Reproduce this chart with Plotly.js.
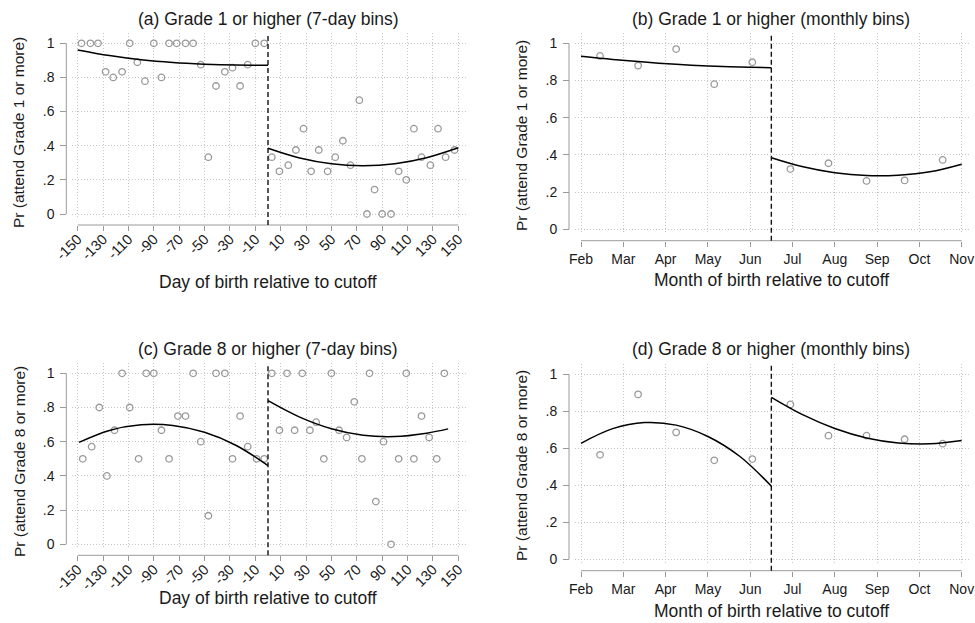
<!DOCTYPE html>
<html><head><meta charset="utf-8">
<script src="https://cdn.plot.ly/plotly-3.0.1.min.js"></script>
<style>html,body{margin:0;padding:0;background:#fff;} #chart{width:975px;height:623px;}</style>
</head><body><div id="chart"></div>
<script>
// ---------- DATA ----------
// Panel (a): Grade 1 or higher, 7-day bins (x = day of birth relative to cutoff)
const aLeftX  = [-147,-140,-134,-128,-122,-115,-109,-103,-97,-90,-84,-78,-72,-65,-59,-53,-47,-41,-34,-28,-22,-16,-10,-3];
const aLeftY  = [1,1,1,0.833,0.8,0.833,1,0.889,0.778,1,0.8,1,1,1,1,0.875,0.333,0.75,0.833,0.857,0.75,0.875,1,1];
const aRightX = [3,9,16,22,28,34,40,47,53,59,65,72,78,84,90,97,103,109,115,121,128,134,140,147];
const aRightY = [0.333,0.25,0.286,0.375,0.5,0.25,0.375,0.25,0.333,0.429,0.286,0.667,0,0.143,0,0,0.25,0.2,0.5,0.333,0.286,0.5,0.333,0.375];
const aFitLeftX  = [-150,-125,-100,-75,-50,-25,0];
const aFitLeftY  = [0.961,0.928,0.903,0.887,0.878,0.873,0.872];
const aFitRightX = [0,25,50,75,100,125,150];
const aFitRightY = [0.385,0.328,0.294,0.283,0.295,0.330,0.388];

// Panel (b): Grade 1 or higher, monthly bins
const bX = [-135,-105,-75,-45,-15,15,45,75,105,135];
const bY = [0.932,0.880,0.969,0.780,0.898,0.324,0.355,0.260,0.263,0.373];
const bFitLeftX  = [-150,-125,-100,-75,-50,-25,0];
const bFitLeftY  = [0.930,0.913,0.899,0.887,0.878,0.872,0.869];
const bFitRightX = [0,25,50,75,100,125,150];
const bFitRightY = [0.385,0.336,0.304,0.289,0.291,0.309,0.350];

// Panel (c): Grade 8 or higher, 7-day bins
const cLeftX  = [-146,-139,-133,-127,-121,-115,-109,-102,-96,-90,-84,-78,-71,-65,-59,-53,-47,-41,-34,-28,-22,-16,-9,-3];
const cLeftY  = [0.5,0.571,0.8,0.4,0.667,1,0.8,0.5,1,1,0.667,0.5,0.75,0.75,1,0.6,0.167,1,1,0.5,0.75,0.571,0.5,0.5];
const cRightX = [3,9,15,21,27,33,38,44,50,56,62,68,74,80,85,91,97,103,109,115,121,127,133,139];
const cRightY = [1,0.667,1,0.667,1,0.667,0.714,0.5,1,0.667,0.625,0.833,0.5,1,0.25,0.6,0,0.5,1,0.5,0.75,0.625,0.5,1];
const cFitLeftX  = [-149,-125,-100,-75,-50,-25,0];
const cFitLeftY  = [0.596,0.666,0.699,0.695,0.655,0.578,0.460];
const cFitRightX = [0,25,50,75,100,125,142];
const cFitRightY = [0.840,0.744,0.676,0.638,0.630,0.650,0.675];

// Panel (d): Grade 8 or higher, monthly bins
const dX = [-135,-105,-75,-45,-15,15,45,75,105,135];
const dY = [0.564,0.890,0.685,0.534,0.541,0.836,0.667,0.667,0.648,0.624];
const dFitLeftX  = [-150,-125,-100,-75,-50,-25,0];
const dFitLeftY  = [0.626,0.705,0.738,0.724,0.663,0.556,0.395];
const dFitRightX = [0,25,50,75,100,125,150];
const dFitRightY = [0.874,0.779,0.706,0.655,0.628,0.623,0.641];

// Tick labels
const dayTicks = [-150,-130,-110,-90,-70,-50,-30,-10,10,30,50,70,90,110,130,150];
const dayTickText = ['-150','-130','-110','-90','-70','-50','-30','-10','10','30','50','70','90','110','130','150'];
const monthTicks = [-150,-116.67,-83.33,-50,-16.67,16.67,50,83.33,116.67,150];
const monthTickText = ['Feb','Mar','Apr','May','Jun','Jul','Aug','Sep','Oct','Nov'];
const probTicks = [0,0.2,0.4,0.6,0.8,1];
const probTickText = ['0','.2','.4','.6','.8','1'];

const titles = ['(a) Grade 1 or higher (7-day bins)','(b) Grade 1 or higher (monthly bins)',
                '(c) Grade 8 or higher (7-day bins)','(d) Grade 8 or higher (monthly bins)'];
const xTitles = ['Day of birth relative to cutoff','Month of birth relative to cutoff',
                 'Day of birth relative to cutoff','Month of birth relative to cutoff'];
const yTitles = ['Pr (attend Grade 1 or more)','Pr (attend Grade 1 or more)',
                 'Pr (attend Grade 8 or more)','Pr (attend Grade 8 or more)'];

// ---------- LAYOUT GEOMETRY (pixels) ----------
const W = 975, H = 623;
const FONT = '"Liberation Sans", Arial, Helvetica, sans-serif';
const fx = p => p / W, fy = p => 1 - p / H;

const geo = [
  {xm:77.7, xp:458.3, xl:71.7, xr:466,   y1:43.3,  y0:214,   top:33.3, bot:218,   xline:225,   yline:66.3, tx:268, ty:19,  xtx:268, xty:281.5, ytx:19,  yty:133},
  {xm:581,  xp:961.7, xl:575,  xr:969.3, y1:43.3,  y0:229.3, top:33.3, bot:233.3, xline:240.7, yline:569,  tx:771, ty:19,  xtx:771, xty:280,   ytx:521, yty:136},
  {xm:77.7, xp:458.3, xl:71.7, xr:466,   y1:373.3, y0:544.3, top:363.3,bot:548.3, xline:555.3, yline:66.3, tx:268, ty:349, xtx:268, xty:598,   ytx:19,  yty:462},
  {xm:581,  xp:961.7, xl:575,  xr:969.3, y1:374,   y0:559.3, top:364,  bot:563.3, xline:570.7, yline:569,  tx:771, ty:349, xtx:771, xty:611,   ytx:521, yty:466}
];

const panelData = [
  {sx:[aLeftX,aRightX], sy:[aLeftY,aRightY], fxs:[aFitLeftX,aFitRightX], fys:[aFitLeftY,aFitRightY], monthly:false},
  {sx:[bX], sy:[bY], fxs:[bFitLeftX,bFitRightX], fys:[bFitLeftY,bFitRightY], monthly:true},
  {sx:[cLeftX,cRightX], sy:[cLeftY,cRightY], fxs:[cFitLeftX,cFitRightX], fys:[cFitLeftY,cFitRightY], monthly:false},
  {sx:[dX], sy:[dY], fxs:[dFitLeftX,dFitRightX], fys:[dFitLeftY,dFitRightY], monthly:true}
];

const GRID = '#c6c6c6', AXIS = '#9a9a9a', TXT = '#1a1a1a', MARK = '#999999';
const traces = [];
const layout = {
  width: W, height: H, margin: {l:0, r:0, t:0, b:0},
  paper_bgcolor: '#fff', plot_bgcolor: '#fff', showlegend: false,
  font: {family: FONT, color: TXT},
  shapes: [], annotations: []
};

geo.forEach((g, i) => {
  const n = i + 1;
  const xk = 'xaxis' + (n === 1 ? '' : n), yk = 'yaxis' + (n === 1 ? '' : n);
  const xr = 'x' + (n === 1 ? '' : n), yr = 'y' + (n === 1 ? '' : n);
  const k = (g.xp - g.xm) / 300;
  const xrange = [-150 - (g.xm - g.xl) / k, 150 + (g.xr - g.xp) / k];
  const u = g.y0 - g.y1;
  const yrange = [-(g.bot - g.y0) / u, 1 + (g.y1 - g.top) / u];
  const pd = panelData[i];

  layout[xk] = {
    domain: [fx(g.xl), fx(g.xr)], range: xrange, anchor: 'free', position: fy(g.xline),
    tickmode: 'array',
    tickvals: pd.monthly ? monthTicks : dayTicks,
    ticktext: pd.monthly ? monthTickText : dayTickText,
    tickangle: pd.monthly ? 0 : -45,
    ticks: 'outside', ticklen: 5, tickwidth: 1, tickcolor: AXIS,
    ticklabelstandoff: pd.monthly ? 0 : -6,
    tickfont: {family: FONT, size: pd.monthly ? 14 : 14.5, color: TXT},
    showgrid: true, gridcolor: GRID, griddash: '1px,2px', gridwidth: 1,
    zeroline: false, showline: false, fixedrange: true
  };
  layout[yk] = {
    domain: [fy(g.bot), fy(g.top)], range: yrange, anchor: 'free', position: fx(g.yline),
    tickmode: 'array', tickvals: probTicks, ticktext: probTickText,
    ticks: 'outside', ticklen: 6, tickwidth: 1, tickcolor: AXIS,
    ticklabelstandoff: 3,
    tickfont: {family: FONT, size: 14, color: TXT},
    showgrid: true, gridcolor: GRID, griddash: '1px,2px', gridwidth: 1,
    zeroline: false, showline: false, fixedrange: true
  };

  // axis lines spanning the tick range (Stata style)
  layout.shapes.push({type:'line', xref: xr, yref:'paper', x0: -150, x1: 150,
    y0: fy(g.xline), y1: fy(g.xline), line: {color: AXIS, width: 1}});
  layout.shapes.push({type:'line', xref:'paper', yref: yr, x0: fx(g.yline), x1: fx(g.yline), y0: 0, y1: 1,
    line: {color: AXIS, width: 1}});
  // cutoff dashed line
  layout.shapes.push({type:'line', xref: xr, yref:'paper', x0: 0, x1: 0, y0: fy(g.xline), y1: fy(g.top),
    line: {color: '#111', width: 1.4, dash: '5px,3px'}});

  // scatter bins
  pd.sx.forEach((xs, j) => {
    traces.push({type:'scatter', mode:'markers', x: xs, y: pd.sy[j], xaxis: xr, yaxis: yr,
      marker: {symbol:'circle-open', size: 6.5, color: MARK, line: {width: 1.3, color: MARK}},
      hoverinfo: 'skip', cliponaxis: false});
  });
  // fitted curves
  pd.fxs.forEach((xs, j) => {
    traces.push({type:'scatter', mode:'lines', x: xs, y: pd.fys[j], xaxis: xr, yaxis: yr,
      line: {color: '#000', width: 1.5, shape: 'spline', smoothing: 1}, hoverinfo: 'skip'});
  });

  // titles
  layout.annotations.push({text: titles[i], xref:'paper', yref:'paper', x: fx(g.tx), y: fy(g.ty),
    xanchor:'center', yanchor:'middle', showarrow:false, font:{family: FONT, size: 17.5, color: TXT}});
  layout.annotations.push({text: xTitles[i], xref:'paper', yref:'paper', x: fx(g.xtx), y: fy(g.xty),
    xanchor:'center', yanchor:'middle', showarrow:false, font:{family: FONT, size: 17.5, color: TXT}});
  layout.annotations.push({text: yTitles[i], xref:'paper', yref:'paper', x: fx(g.ytx), y: fy(g.yty),
    xanchor:'center', yanchor:'middle', textangle: -90, showarrow:false, font:{family: FONT, size: 15.5, color: TXT}});
});

Plotly.newPlot('chart', traces, layout, {staticPlot: true, displayModeBar: false});
</script>
</body></html>
